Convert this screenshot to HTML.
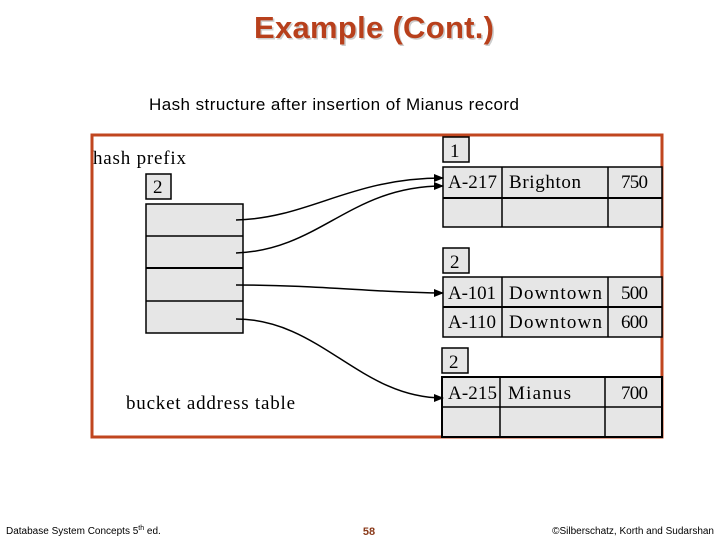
<!DOCTYPE html>
<html><head><meta charset="utf-8"><style>
html,body{margin:0;padding:0;background:#fff;}
body{width:720px;height:540px;overflow:hidden;position:relative;}
svg{position:absolute;left:0;top:0;}
</style></head><body>
<svg width="720" height="540" viewBox="0 0 720 540" xmlns="http://www.w3.org/2000/svg">
<defs>
<marker id="ah" markerWidth="10" markerHeight="8" refX="9" refY="4" orient="auto" markerUnits="userSpaceOnUse">
<path d="M0,0 L10,4 L0,8 Z" fill="#000"/>
</marker>
</defs>
<text x="374" y="38" text-anchor="middle" font-family="Liberation Sans, sans-serif" font-weight="bold" font-size="31" textLength="240" fill="#ccc" transform="translate(1.5,1.5)">Example (Cont.)</text>
<text x="374" y="38" text-anchor="middle" font-family="Liberation Sans, sans-serif" font-weight="bold" font-size="31" textLength="240" fill="#b8401c">Example (Cont.)</text>
<text x="149" y="110" font-family="Liberation Sans, sans-serif" font-size="17" textLength="370" fill="#000">Hash structure after insertion of Mianus record</text>

<rect x="92" y="135" width="570" height="302" fill="#fff" stroke="#c0461f" stroke-width="3"/>

<g font-family="Liberation Serif, serif" font-size="19" fill="#000">
<text x="93" y="164" textLength="93">hash prefix</text>
<text x="126" y="409" textLength="169">bucket address table</text>
</g>

<g stroke="#000" stroke-width="1.5" fill="#e6e6e6">
<rect x="146" y="174" width="25" height="25"/>
<rect x="146" y="204" width="97" height="129"/>
<line x1="146" y1="236" x2="243" y2="236"/>
<line x1="146" y1="268" x2="243" y2="268" stroke-width="2"/>
<line x1="146" y1="301" x2="243" y2="301"/>

<rect x="443" y="137" width="26" height="25"/>
<rect x="443" y="167" width="219" height="60"/>
<line x1="443" y1="198" x2="662" y2="198" stroke-width="2"/>
<line x1="502" y1="167" x2="502" y2="227"/>
<line x1="608" y1="167" x2="608" y2="227"/>

<rect x="443" y="248" width="26" height="25"/>
<rect x="443" y="277" width="219" height="60"/>
<line x1="443" y1="307" x2="662" y2="307" stroke-width="2"/>
<line x1="502" y1="277" x2="502" y2="337"/>
<line x1="608" y1="277" x2="608" y2="337"/>

<rect x="442" y="348" width="26" height="25"/>
<rect x="442" y="377" width="220" height="60" stroke-width="2"/>
<line x1="442" y1="407" x2="662" y2="407"/>
<line x1="500" y1="377" x2="500" y2="437"/>
<line x1="605" y1="377" x2="605" y2="437"/>
</g>

<g font-family="Liberation Serif, serif" font-size="19" fill="#000">
<text x="153" y="193">2</text>
<text x="450" y="157">1</text>
<text x="450" y="268">2</text>
<text x="449" y="368">2</text>
<text x="448" y="188" textLength="49">A-217</text><text x="509" y="188" textLength="72">Brighton</text><text x="621" y="188" textLength="27">750</text>
<text x="448" y="299" textLength="48">A-101</text><text x="509" y="299" textLength="93">Downtown</text><text x="621" y="299" textLength="27">500</text>
<text x="448" y="328" textLength="48">A-110</text><text x="509" y="328" textLength="93">Downtown</text><text x="621" y="328" textLength="27">600</text>
<text x="448" y="399" textLength="49">A-215</text><text x="508" y="399" textLength="63">Mianus</text><text x="621" y="399" textLength="27">700</text>
</g>

<g stroke="#000" stroke-width="1.5" fill="none" marker-end="url(#ah)">
<path d="M236,220 C310,218 350,178 443,178"/>
<path d="M236,253 C320,250 350,186 443,186"/>
<path d="M236,285 C320,285 380,293 443,293"/>
<path d="M236,319 C320,319 360,398 443,398"/>
</g>

<g font-family="Liberation Sans, sans-serif" font-size="10" fill="#000">
<text x="6" y="534">Database System Concepts 5<tspan font-size="7" dy="-4">th</tspan><tspan dy="4"> ed.</tspan></text>
<text x="369" y="535" text-anchor="middle" font-weight="bold" font-size="11" fill="#8a3a1a">58</text>
<text x="714" y="534" text-anchor="end">©Silberschatz, Korth and Sudarshan</text>
</g>
</svg>
</body></html>
